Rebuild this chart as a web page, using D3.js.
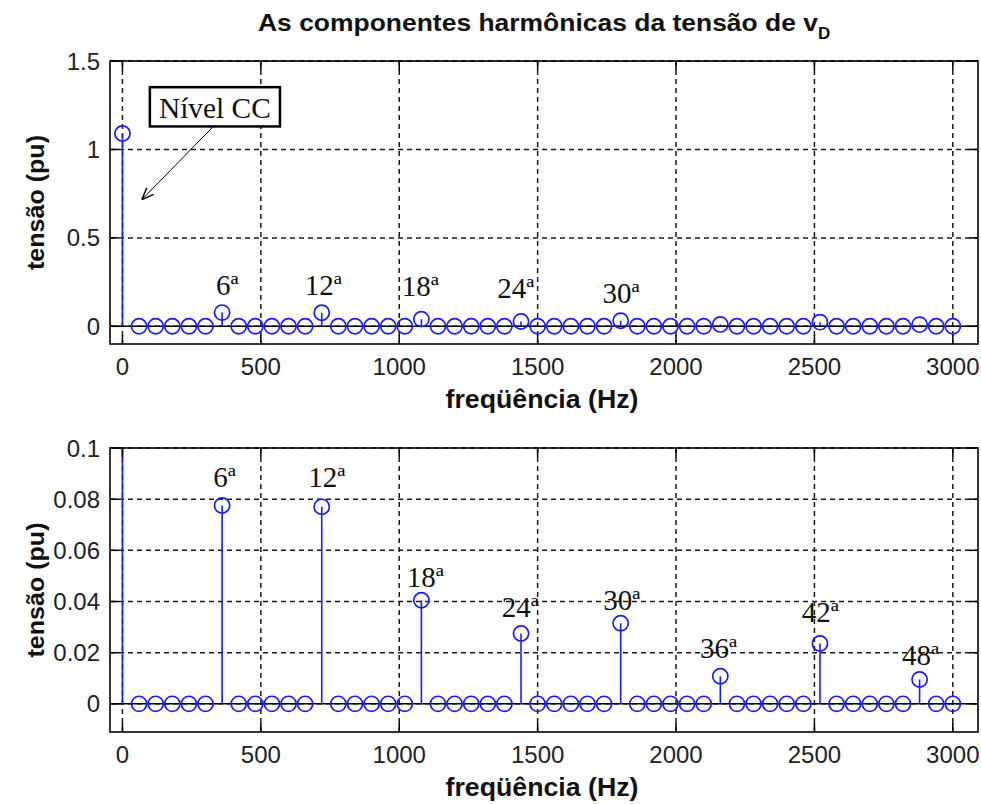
<!DOCTYPE html>
<html>
<head>
<meta charset="utf-8">
<script src="https://cdn.jsdelivr.net/npm/d3@7"></script>
<style>
  html, body { margin: 0; padding: 0; background: #fff; }
  svg { display: block; }
</style>
</head>
<body>
<svg id="chart" width="981" height="804"></svg>
<script>
// ---------- DATA ----------
const freqs = [0, 60, 120, 180, 240, 300, 360, 420, 480, 540, 600, 660, 720, 780, 840, 900, 960, 1020,
  1080, 1140, 1200, 1260, 1320, 1380, 1440, 1500, 1560, 1620, 1680, 1740, 1800, 1860, 1920, 1980,
  2040, 2100, 2160, 2220, 2280, 2340, 2400, 2460, 2520, 2580, 2640, 2700, 2760, 2820, 2880, 2940, 3000];
const values = [1.09, 0, 0, 0, 0, 0, 0.0775, 0, 0, 0, 0, 0, 0.0770, 0, 0, 0, 0, 0,
  0.0405, 0, 0, 0, 0, 0, 0.0275, 0, 0, 0, 0, 0, 0.0315, 0, 0, 0,
  0, 0, 0.0108, 0, 0, 0, 0, 0, 0.0236, 0, 0, 0, 0, 0, 0.0095, 0, 0];

const xTicks = [0, 500, 1000, 1500, 2000, 2500, 3000];
const yTicksTop = [0, 0.5, 1, 1.5];
const yTickLabelsTop = ["0", "0.5", "1", "1.5"];
const yTicksBottom = [0, 0.02, 0.04, 0.06, 0.08, 0.1];
const yTickLabelsBottom = ["0", "0.02", "0.04", "0.06", "0.08", "0.1"];

// harmonic labels (text, anchor freq, anchor value in data units)
const topLabels = ["6ª", "12ª", "18ª", "24ª", "30ª"];
const topLabelFreq = [338, 659, 1009, 1354, 1734];
const topLabelVal = [0.177, 0.177, 0.171, 0.158, 0.130];

const botLabels = ["6ª", "12ª", "18ª", "24ª", "30ª", "36ª", "42ª", "48ª"];
const botLabelFreq = [328, 671, 1027, 1370, 1737, 2087, 2454, 2816];
const botLabelVal = [0.0849, 0.0849, 0.0458, 0.0341, 0.0367, 0.0178, 0.0321, 0.0152];

// annotation "Nível CC" (data units of top plot)
const annotText = "Nível CC";
const annotBox = { f0: 99, f1: 569, v0: 1.13, v1: 1.352 };
const annotArrow = { f0: 327, v0: 1.128, f1: 70, v1: 0.716 };

const titleMain = "As componentes harmônicas da tensão de v";
const titleSub = "D";
const xLabel = "freqüência (Hz)";
const yLabel = "tensão (pu)";

// ---------- LAYOUT ----------
const svg = d3.select("#chart");
const W = 981, H = 804;
svg.append("rect").attr("width", W).attr("height", H).attr("fill", "#fff");

const left = 110, right = 978;
const blue = "#1a1aff";
const gridColor = "#1a1a1a";
const tickFont = "'Liberation Sans', Arial, sans-serif";
const serif = "'Liberation Serif', 'Times New Roman', serif";

const x = d3.scaleLinear().domain([-45, 3091]).range([left, right]);

// arrow marker
const defs = svg.append("defs");
defs.append("marker").attr("id", "arr").attr("viewBox", "0 0 10 10")
  .attr("refX", 10).attr("refY", 5).attr("markerWidth", 12).attr("markerHeight", 12)
  .attr("markerUnits", "userSpaceOnUse").attr("orient", "auto")
  .append("path").attr("d", "M0,1 L10,5 L0,9").attr("fill", "none").attr("stroke", "#000").attr("stroke-width", 1.2);

function panel(id, top, bottom, yDomain, yTicks, yTickLabels, labels, labelFreq, labelVal) {
  const y = d3.scaleLinear().domain(yDomain).range([bottom, top]);
  const g = svg.append("g");

  defs.append("clipPath").attr("id", "clip" + id)
    .append("rect").attr("x", left).attr("y", top).attr("width", right - left).attr("height", bottom - top);

  // grid
  const grid = g.append("g");
  grid.selectAll("line.gx").data(xTicks).join("line")
    .attr("x1", d => x(d)).attr("x2", d => x(d)).attr("y1", top).attr("y2", bottom)
    .attr("stroke", gridColor).attr("stroke-width", 1.5).attr("stroke-dasharray", "5,4");
  grid.selectAll("line.gy").data(yTicks).join("line")
    .attr("x1", left).attr("x2", right).attr("y1", d => y(d)).attr("y2", d => y(d))
    .attr("stroke", gridColor).attr("stroke-width", 1.5).attr("stroke-dasharray", "5,4");

  // baseline at 0
  g.append("line").attr("x1", left).attr("x2", right).attr("y1", y(0)).attr("y2", y(0))
    .attr("stroke", "#000").attr("stroke-width", 1.5);

  // stems + markers
  const marks = g.append("g").attr("clip-path", `url(#clip${id})`);
  const pts = freqs.map((f, i) => ({ f, v: values[i] }));
  marks.selectAll("line.stem").data(pts.filter(d => d.v !== 0)).join("line")
    .attr("x1", d => x(d.f)).attr("x2", d => x(d.f)).attr("y1", y(0)).attr("y2", d => y(d.v))
    .attr("stroke", blue).attr("stroke-width", 1.6);
  marks.selectAll("circle").data(pts).join("circle")
    .attr("cx", d => x(d.f)).attr("cy", d => y(d.v)).attr("r", 7.6)
    .attr("fill", "none").attr("stroke", blue).attr("stroke-width", 1.7);

  // frame
  g.append("rect").attr("x", left).attr("y", top).attr("width", right - left).attr("height", bottom - top)
    .attr("fill", "none").attr("stroke", "#000").attr("stroke-width", 1.6);

  // ticks (inside, all four sides)
  const tl = 9;
  const tk = g.append("g").attr("stroke", "#000").attr("stroke-width", 1.5);
  xTicks.forEach(t => {
    tk.append("line").attr("x1", x(t)).attr("x2", x(t)).attr("y1", bottom).attr("y2", bottom - tl);
    tk.append("line").attr("x1", x(t)).attr("x2", x(t)).attr("y1", top).attr("y2", top + tl);
  });
  yTicks.forEach(t => {
    tk.append("line").attr("x1", left).attr("x2", left + tl).attr("y1", y(t)).attr("y2", y(t));
    tk.append("line").attr("x1", right).attr("x2", right - tl).attr("y1", y(t)).attr("y2", y(t));
  });

  // tick labels
  g.selectAll("text.xt").data(xTicks).join("text")
    .attr("x", d => x(d)).attr("y", bottom + 31)
    .attr("text-anchor", "middle").attr("font-family", tickFont).attr("font-size", 24)
    .attr("fill", "#222").text(d => d);
  g.selectAll("text.yt").data(yTicks).join("text")
    .attr("x", left - 10).attr("y", d => y(d) + 8.5)
    .attr("text-anchor", "end").attr("font-family", tickFont).attr("font-size", 24)
    .attr("fill", "#222").text((d, i) => yTickLabels[i]);

  // axis labels
  g.append("text").attr("x", (left + right) / 2 - 2).attr("y", bottom + 64)
    .attr("text-anchor", "middle").attr("font-family", tickFont).attr("font-weight", "bold")
    .attr("font-size", 25).attr("textLength", 193).attr("lengthAdjust", "spacingAndGlyphs")
    .attr("fill", "#111").text(xLabel);
  const cy = (top + bottom) / 2;
  g.append("text").attr("transform", `translate(44,${cy}) rotate(-90)`)
    .attr("text-anchor", "middle").attr("font-family", tickFont).attr("font-weight", "bold")
    .attr("font-size", 24).attr("textLength", 135).attr("lengthAdjust", "spacingAndGlyphs")
    .attr("fill", "#111").text(yLabel);

  // harmonic labels
  g.selectAll("text.hl").data(labels).join("text")
    .attr("x", (d, i) => x(labelFreq[i])).attr("y", (d, i) => y(labelVal[i]))
    .attr("font-family", serif).attr("font-size", 29).attr("fill", "#111")
    .text(d => d);

  return { y, g };
}

const topP = panel("T", 61, 344, [-0.1, 1.5], yTicksTop, yTickLabelsTop, topLabels, topLabelFreq, topLabelVal);
const botP = panel("B", 448, 732, [-0.011, 0.1], yTicksBottom, yTickLabelsBottom, botLabels, botLabelFreq, botLabelVal);

// annotation on top plot
{
  const y = topP.y, g = topP.g;
  const bx0 = x(annotBox.f0), bx1 = x(annotBox.f1), by0 = y(annotBox.v1), by1 = y(annotBox.v0);
  g.append("line").attr("x1", x(annotArrow.f0)).attr("y1", y(annotArrow.v0))
    .attr("x2", x(annotArrow.f1)).attr("y2", y(annotArrow.v1))
    .attr("stroke", "#000").attr("stroke-width", 1).attr("marker-end", "url(#arr)");
  g.append("rect").attr("x", bx0).attr("y", by0).attr("width", bx1 - bx0).attr("height", by1 - by0)
    .attr("fill", "#fff").attr("stroke", "#000").attr("stroke-width", 2.5);
  g.append("text").attr("x", (bx0 + bx1) / 2).attr("y", by1 - 8)
    .attr("text-anchor", "middle").attr("font-family", serif).attr("font-size", 29)
    .attr("textLength", 112).attr("lengthAdjust", "spacingAndGlyphs")
    .attr("fill", "#111").text(annotText);
}

// title
{
  const t = svg.append("text").attr("x", 258).attr("y", 31)
    .attr("font-family", tickFont).attr("font-weight", "bold").attr("font-size", 24).attr("fill", "#111");
  t.append("tspan").attr("textLength", 560).attr("lengthAdjust", "spacingAndGlyphs").text(titleMain);
  t.append("tspan").attr("dy", 8).attr("font-size", 17).text(titleSub);
}
</script>
</body>
</html>
